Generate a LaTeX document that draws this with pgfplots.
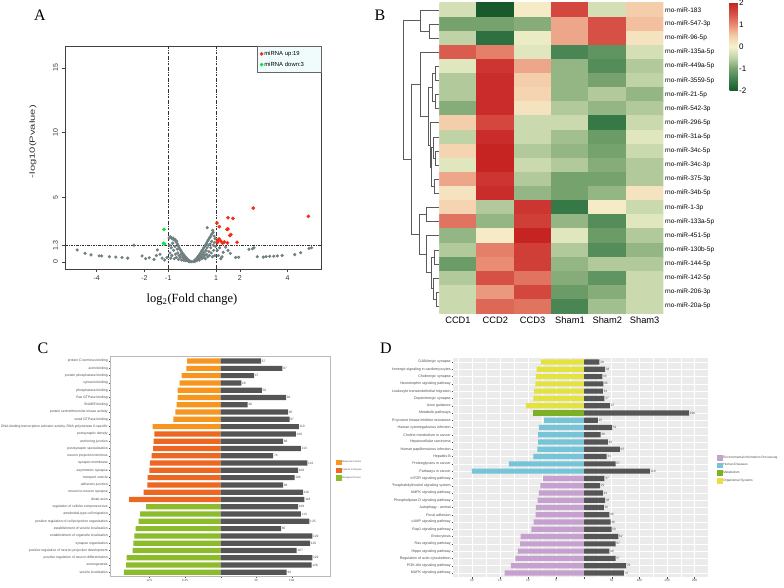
\documentclass[border=0pt]{standalone}
\usepackage{fontspec}
\setmainfont{Liberation Sans}
\newfontfamily\seriffont{Liberation Serif}
\usepackage{pgfplots}
\usepackage{pgfplotstable}
\pgfplotsset{compat=1.18}

\definecolor{grayPt}{RGB}{112,128,128}
\definecolor{upRed}{RGB}{245,45,20}
\definecolor{downGreen}{RGB}{20,225,70}
\definecolor{mf}{RGB}{246,150,30}
\definecolor{cc}{RGB}{236,104,34}
\definecolor{bp}{RGB}{140,188,44}
\definecolor{gbar}{RGB}{85,85,85}
\definecolor{eip}{RGB}{198,160,206}
\definecolor{hd}{RGB}{118,196,216}
\definecolor{met}{RGB}{126,176,38}
\definecolor{os}{RGB}{228,226,62}
\definecolor{ggbg}{RGB}{235,235,235}
\definecolor{dendro}{RGB}{90,90,90}

\pgfplotsset{sqlegend/.style={legend image code/.code={\fill[##1] (0pt,-2.8pt) rectangle (5.5pt,2.8pt);}}}
\pgfplotsset{dl/.style={color=dendro, no markers, line width=0.5pt, forget plot}}

\pgfplotstableread{
row p genes
1 5.9 57
2 6.0 87
3 6.84 47
4 7.19 29
5 7.54 58
6 7.54 92
7 7.72 38
8 7.95 95
9 8.3 97
10 11.93 110
11 11.64 106
12 11.75 88
13 11.87 113
14 12.1 74
15 12.4 122
16 12.51 109
17 12.8 104
18 12.87 88
19 13.5 116
20 16.08 118
21 13.1 109
22 14.15 113
23 14.39 125
24 14.9 85
25 15.15 129
26 15.3 126
27 15.44 107
28 16.5 129
29 16.6 128
30 16.96 93
}\Ctab

\pgfplotstableread{
row p genes
1 7.7 28
2 8.45 38
3 8.57 33
4 8.7 35
5 8.9 34
6 9.05 37
7 10.36 47
8 9.17 190
9 7.14 25
10 8.04 51
11 8.2 30
12 8.2 43
13 8.33 65
14 9.05 41
15 13.4 57
16 20.0 119
17 7.3 37
18 7.8 29
19 8.04 34
20 8.27 38
21 8.57 36
22 8.63 46
23 8.99 48
24 9.4 50
25 11.3 62
26 11.4 57
27 11.8 46
28 12.26 57
29 13.04 76
30 14.17 72
}\Dtab

\pgfplotstableread{
x y c
0 1 -0.3
1 1 -2.0
2 1 0.1
3 1 1.6
4 1 -0.3
5 1 0.5
0 2 -1.0
1 2 -1.0
2 2 -0.9
3 2 0.8
4 2 1.5
5 2 0.6
0 3 -0.5
1 3 -1.7
2 3 -0.1
3 3 0.8
4 3 1.5
5 3 0.2
0 4 1.4
1 4 1.1
2 4 -0.2
3 4 -1.4
4 4 -1.2
5 4 -0.3
0 5 -0.2
1 5 1.8
2 5 0.8
3 5 -0.8
4 5 -1.3
5 5 -0.6
0 6 -0.6
1 6 1.9
2 6 0.5
3 6 -0.8
4 6 -1.0
5 6 -0.5
0 7 -0.6
1 7 1.9
2 7 0.4
3 7 -0.8
4 7 -0.6
5 7 -0.8
0 8 -0.9
1 8 1.9
2 8 0.2
3 8 -0.6
4 8 -0.8
5 8 -0.6
0 9 0.5
1 9 1.6
2 9 -0.4
3 9 -0.4
4 9 -1.6
5 9 -0.4
0 10 -0.5
1 10 1.9
2 10 -0.4
3 10 -0.7
4 10 -1.1
5 10 -0.2
0 11 0.4
1 11 2.0
2 11 -0.6
3 11 -0.8
4 11 -1.0
5 11 -0.4
0 12 -0.2
1 12 2.0
2 12 -0.4
3 12 -0.6
4 12 -0.9
5 12 -0.6
0 13 0.8
1 13 1.8
2 13 -0.6
3 13 -1.0
4 13 -1.0
5 13 -0.6
0 14 0.2
1 14 1.9
2 14 -0.8
3 14 -1.0
4 14 -0.8
5 14 0.2
0 15 0.4
1 15 -0.6
2 15 1.8
3 15 -1.6
4 15 0.1
5 15 -0.4
0 16 1.2
1 16 -0.8
2 16 1.7
3 16 -0.8
4 16 -1.3
5 16 -0.2
0 17 -0.8
1 17 0.1
2 17 2.0
3 17 -0.2
4 17 -1.1
5 17 -0.6
0 18 -0.6
1 18 1.1
2 18 1.7
3 18 -0.6
4 18 -1.3
5 18 -0.8
0 19 -1.1
1 19 1.0
2 19 1.7
3 19 -0.8
4 19 -0.6
5 19 -0.6
0 20 -0.6
1 20 1.5
2 20 1.2
3 20 -0.9
4 20 -1.2
5 20 -0.4
0 21 -0.4
1 21 0.9
2 21 1.6
3 21 -1.1
4 21 -0.9
5 21 -0.4
0 22 -0.4
1 22 1.3
2 22 1.2
3 22 -1.4
4 22 -0.7
5 22 -0.4
}\Htab

\begin{document}
\begin{tikzpicture}
\path[use as bounding box] (0pt,0pt) rectangle (784pt,588pt);

% ---------------- Panel A: volcano ----------------
\begin{axis}[at={(65pt,319pt)}, anchor=south west, scale only axis,
  width=256pt, height=223pt,
  xmin=-5.33, xmax=5.4, ymin=-0.54, ymax=16.7,
  xtick={-4,-2,-1,1,2,4}, xticklabels={-4,-2,-1,1,2,4},
  ytick={0,1.3,5,10,15}, yticklabels={0,1.3,5,10,15},
  tick align=outside, tick pos=left, major tick length=3.5pt,
  axis line style={black!75, line width=0.5pt}, tick style={black!75, line width=0.5pt},
  yticklabel style={rotate=90, anchor=south, font=\fontsize{7}{8}\selectfont, text=black!80},
  xticklabel style={font=\fontsize{7}{8}\selectfont, text=black!80},
  clip=false,
  legend style={at={(1,1)}, anchor=north east, draw=black!60,
    fill={rgb,255:red,240;green,252;blue,252},
    font=\fontsize{5.9}{7}\selectfont, inner xsep=2.5pt, inner ysep=3.8pt,
    row sep=3pt, nodes={inner sep=1pt, text width=53pt}},
  legend cell align=left,
  legend image code/.code={\draw[mark repeat=2,mark phase=2,#1] plot coordinates {(0pt,0pt)(3.5pt,0pt)(7pt,0pt)};},
]
\addplot[forget plot, black!80, dash pattern=on 2.5pt off 1.2pt on 0.6pt off 1.2pt, line width=0.45pt] coordinates {(-1,-0.54) (-1,16.7)};
\addplot[forget plot, black!80, dash pattern=on 2.5pt off 1.2pt on 0.6pt off 1.2pt, line width=0.45pt] coordinates {(1,-0.54) (1,16.7)};
\addplot[forget plot, black!80, dash pattern=on 2.5pt off 1.2pt on 0.6pt off 1.2pt, line width=0.45pt] coordinates {(-5.33,1.3) (5.4,1.3)};
\addplot[forget plot, only marks, mark=*, mark size=1.4pt, color=grayPt] coordinates {
(-4.82,0.93) (-4.49,0.67) (-4.24,0.55) (-3.9,0.47) (-3.79,0.47) (-3.47,0.41) (-3.2,0.38) (-2.94,0.35) (-2.7,0.3) (-2.44,1.3) (-2.1,0.47) (-1.95,0.26) (-1.8,0.33) (-1.46,0.93) (-1.5,0.5) (-1.26,0.3) (-1.6,0.2) (-1.35,0.6) (-1.15,0.15) (-1.05,0.35)
(-0.97,1.85) (-0.92,1.95) (-0.88,1.9) (-0.84,1.8) (-0.8,1.85) (-0.76,1.7) (-0.72,1.75) (-0.68,1.55) (-0.65,1.6) (-0.62,1.4) (-0.58,1.25) (-0.55,1.1) (-0.52,1.0) (-0.48,0.9) (-0.45,0.8) (-0.42,0.7) (-0.38,0.6) (-0.35,0.55) (-0.32,0.45) (-0.28,0.38) (-0.25,0.3) (-0.22,0.25) (-0.18,0.18) (-0.15,0.12) (-0.12,0.08) (-0.08,0.05) (-0.04,0.02)
(-0.95,1.3) (-0.93,0.7) (-0.9,0.3) (-0.88,1.1) (-0.85,0.5) (-0.82,1.45) (-0.78,0.9) (-0.75,0.25) (-0.72,1.2) (-0.7,0.6) (-0.66,0.35) (-0.63,1.0) (-0.6,0.7) (-0.57,0.2) (-0.55,0.5) (-0.5,0.35) (-0.47,0.6) (-0.44,0.15) (-0.4,0.45) (-0.37,0.3) (-0.34,0.12) (-0.3,0.25) (-0.26,0.1) (-0.2,0.12) (-0.16,0.06) (-0.1,0.03)
(0.04,0.03) (0.08,0.08) (0.12,0.15) (0.16,0.22) (0.2,0.3) (0.24,0.4) (0.28,0.5) (0.32,0.6) (0.36,0.72) (0.4,0.85) (0.44,0.95) (0.48,1.08) (0.52,1.2) (0.56,1.32) (0.6,1.45) (0.64,1.6) (0.68,1.72) (0.72,1.85) (0.76,1.95) (0.8,2.1) (0.84,2.2) (0.88,2.3) (0.92,2.0) (0.96,1.8) (0.63,2.65) (0.86,2.45)
(0.1,0.04) (0.15,0.08) (0.2,0.12) (0.24,0.2) (0.28,0.28) (0.3,0.15) (0.34,0.35) (0.38,0.45) (0.4,0.25) (0.44,0.6) (0.46,0.35) (0.5,0.75) (0.52,0.5) (0.55,0.25) (0.58,0.9) (0.6,0.6) (0.62,1.1) (0.65,0.4) (0.68,1.3) (0.7,0.8) (0.72,0.5) (0.75,1.4) (0.78,1.1) (0.8,0.7) (0.82,1.6) (0.85,0.4) (0.88,1.3) (0.9,0.9) (0.93,1.5) (0.95,0.5) (0.98,1.2)
(1.05,0.9) (1.1,0.5) (1.15,1.1) (1.2,0.25) (1.3,0.75) (1.4,1.15) (1.5,0.9) (1.6,0.67) (1.25,0.4) (1.82,0.35) (1.95,0.37) (2.38,0.98) (2.53,1.03) (2.59,1.1) (2.73,0.41) (2.98,0.38) (3.1,0.42) (3.25,0.44) (3.42,0.45) (3.57,0.47) (3.77,0.5) (4.3,0.57) (4.55,0.72) (4.9,1.05) (5.0,1.1)
};
\addplot[only marks, mark=*, mark size=1.65pt, color=upRed] coordinates {
(2.56,4.17) (4.87,3.53) (1.50,3.42) (1.71,3.37) (1.04,3.01) (1.14,2.73) (1.46,2.52) (1.50,2.56) (1.62,2.12) (1.58,2.05) (1.13,1.78) (1.05,1.62) (1.20,1.62) (1.27,1.45) (1.06,1.50) (1.48,1.48) (1.88,1.53) (1.10,1.70) (1.35,1.55)
};
\addlegendentry{miRNA up:19}
\addplot[only marks, mark=*, mark size=1.65pt, color=downGreen] coordinates {
(-1.18,2.52) (-1.2,1.44) (-1.16,1.40)
};
\addlegendentry{miRNA down:3}
\node[rotate=90, font=\fontsize{7.5}{9}\selectfont, text=black!80] at (axis description cs:-0.125,0.571) {\scalebox{1.5}[1]{-log10(Pvalue)}};
\node[font=\seriffont\fontsize{12.5}{14}\selectfont] at (axis description cs:0.496,-0.139) {log\textsubscript{2}(Fold change)};
\end{axis}

% ---------------- Panel B: dendrogram ----------------
\begin{axis}[at={(400pt,274.7pt)}, anchor=south west, scale only axis,
  width=39.3pt, height=310.6pt, xmin=400, xmax=439.3, ymin=0.5, ymax=22.5,
  y dir=reverse, hide axis, clip=false]
\addplot[dl] coordinates {(439.3,2) (429.3,2) (429.3,3) (439.3,3)};
\addplot[dl] coordinates {(439.3,1) (420.7,1) (420.7,2.5) (429.3,2.5)};
\addplot[dl] coordinates {(439.3,5) (435,5) (435,6) (439.3,6)};
\addplot[dl] coordinates {(439.3,7) (435,7) (435,8) (439.3,8)};
\addplot[dl] coordinates {(435,5.5) (432.7,5.5) (432.7,7.5) (435,7.5)};
\addplot[dl] coordinates {(439.3,11) (435.5,11) (435.5,12) (439.3,12)};
\addplot[dl] coordinates {(439.3,10) (433.3,10) (433.3,11.5) (435.5,11.5)};
\addplot[dl] coordinates {(439.3,13) (434.3,13) (434.3,14) (439.3,14)};
\addplot[dl] coordinates {(433.3,10.75) (431.7,10.75) (431.7,13.5) (434.3,13.5)};
\addplot[dl] coordinates {(439.3,9) (430,9) (430,12.125) (431.7,12.125)};
\addplot[dl] coordinates {(432.7,6.5) (428,6.5) (428,10.5625) (430,10.5625)};
\addplot[dl] coordinates {(439.3,4) (420.7,4) (420.7,8.53125) (428,8.53125)};
\addplot[dl] coordinates {(439.3,15) (426.7,15) (426.7,16) (439.3,16)};
\addplot[dl] coordinates {(439.3,21) (436,21) (436,22) (439.3,22)};
\addplot[dl] coordinates {(439.3,20) (433,20) (433,21.5) (436,21.5)};
\addplot[dl] coordinates {(439.3,18) (434,18) (434,19) (439.3,19)};
\addplot[dl] coordinates {(434,18.5) (431,18.5) (431,20.75) (433,20.75)};
\addplot[dl] coordinates {(439.3,17) (426,17) (426,19.625) (431,19.625)};
\addplot[dl] coordinates {(426.7,15.5) (419.7,15.5) (419.7,18.3125) (426,18.3125)};
\addplot[dl] coordinates {(420.7,6.265625) (411.7,6.265625) (411.7,16.90625) (419.7,16.90625)};
\addplot[dl] coordinates {(420.7,1.75) (403.3,1.75) (403.3,11.5859) (411.7,11.5859)};
\end{axis}

% ---------------- Panel B: heatmap ----------------
\begin{axis}[at={(439.3pt,274.7pt)}, anchor=south west, scale only axis,
  width=224pt, height=310.6pt, xmin=-0.5, xmax=5.5, ymin=0.5, ymax=22.5,
  y dir=reverse, axis line style={draw=none}, major tick length=0pt,
  xtick={0,1,2,3,4,5}, xticklabels={CCD1,CCD2,CCD3,Sham1,Sham2,Sham3},
  xticklabel style={font=\fontsize{9.3}{11}\selectfont, inner sep=3.5pt},
  ytick={1,...,22}, yticklabel pos=right,
  yticklabels={rno-miR-183,rno-miR-547-3p,rno-miR-96-5p,rno-miR-135a-5p,rno-miR-449a-5p,rno-miR-3559-5p,rno-miR-21-5p,rno-miR-542-3p,rno-miR-296-5p,rno-miR-31a-5p,rno-miR-34c-5p,rno-miR-34c-3p,rno-miR-375-3p,rno-miR-34b-5p,rno-miR-1-3p,rno-miR-133a-5p,rno-miR-451-5p,rno-miR-130b-5p,rno-miR-144-5p,rno-miR-142-5p,rno-miR-206-3p,rno-miR-20a-5p},
  yticklabel style={font=\fontsize{6.5}{7.5}\selectfont, inner sep=1.5pt},
  colormap={hm}{rgb255(0cm)=(25,90,45); rgb255(1cm)=(62,127,77); rgb255(2cm)=(118,162,110); rgb255(3cm)=(192,211,166); rgb255(4cm)=(246,242,206); rgb255(5cm)=(244,205,170); rgb255(6cm)=(232,140,115); rgb255(7cm)=(214,80,70); rgb255(8cm)=(198,35,35)},
  point meta min=-2, point meta max=2,
  colorbar,
  colorbar style={scale only axis, at={(parent axis.north east)}, anchor=north west, xshift=57.7pt,
    width=8.3pt, height=88pt, ytick={-2,-1,0,1,2}, yticklabels={-2,-1,0,1,2},
    yticklabel style={font=\fontsize{8}{9}\selectfont, inner sep=1.2pt},
    major tick length=0pt, axis line style={draw=none}},
]
\addplot[matrix plot*, mesh/cols=6, point meta=explicit] table[x=x, y=y, meta=c] {\Htab};
\end{axis}

% ---------------- Panel C ----------------
\begin{axis}[at={(110pt,11.3pt)}, anchor=south west, scale only axis,
  width=220.3pt, height=220pt, xmin=-155.9, xmax=154.4, ymin=0.4, ymax=30.6,
  y dir=reverse, ytick={1,...,30},
  yticklabels={{protein C-terminus binding},{actin binding},{protein phosphatase binding},{syntaxin binding},{phosphatase binding},{Ras GTPase binding},{SNARE binding},{protein serine/threonine kinase activity},{small GTPase binding},{DNA-binding transcription activator activity, RNA polymerase II-specific},{postsynaptic density},{anchoring junction},{postsynaptic specialization},{neuron projection terminus},{synaptic membrane},{asymmetric synapse},{transport vesicle},{adherens junction},{neuron to neuron synapse},{distal axon},{regulation of cellular component size},{ameboidal-type cell migration},{positive regulation of cell projection organization},{establishment of vesicle localization},{establishment of organelle localization},{synapse organization},{positive regulation of neuron projection development},{positive regulation of neuron differentiation},{axonogenesis},{vesicle localization}},
  xtick={-100.4,-50.2,0,50,100}, xticklabels={12.5,6.25,,50,100},
  tick align=outside, tick pos=left, major tick length=1.5pt,
  axis line style={gray!55, line width=0.6pt}, tick style={black!65, line width=0.3pt},
  yticklabel style={font=\fontsize{3.4}{4}\selectfont, text=black!70, inner sep=0.6pt},
  xticklabel style={font=\fontsize{3}{3.5}\selectfont, text=black!70, inner sep=0.6pt},
  bar width=5.2pt,
  legend style={at={(1.026,0.532)}, anchor=north west, draw=none, fill=none,
    font=\fontsize{2.4}{2.8}\selectfont, text=black!70, row sep=2.1pt, inner sep=0pt,
    nodes={inner sep=0.6pt}},
  legend cell align=left,
]
\addplot[xbar, bar shift=0pt, fill=mf, draw=none, sqlegend, restrict y to domain=0.5:10.5] table[x expr=-8.03*\thisrow{p}, y=row] {\Ctab};
\addlegendentry{Molecular Functio}
\addplot[xbar, bar shift=0pt, fill=cc, draw=none, sqlegend, restrict y to domain=10.5:20.5] table[x expr=-8.03*\thisrow{p}, y=row] {\Ctab};
\addlegendentry{Cellular Compone}
\addplot[xbar, bar shift=0pt, fill=bp, draw=none, sqlegend, restrict y to domain=20.5:30.5] table[x expr=-8.03*\thisrow{p}, y=row] {\Ctab};
\addlegendentry{Biological Proces}
\addplot[forget plot, xbar, bar shift=0pt, fill=gbar, draw=none, point meta=explicit symbolic,
  nodes near coords, nodes near coords style={font=\fontsize{3.2}{3.6}\selectfont, text=black!70, anchor=west, inner sep=0.6pt}]
  table[x=genes, y=row, meta=genes] {\Ctab};
\node[anchor=west, font=\fontsize{2.8}{3.2}\selectfont, text=black!75] at (axis description cs:1.026,0.558) {Classification};
\node[font=\fontsize{3}{3.5}\selectfont, text=black!75] at (axis description cs:0.431,-0.0345) {-log10(Pvalue)};
\node[font=\fontsize{3}{3.5}\selectfont, text=black!75] at (axis description cs:0.575,-0.0345) {No of Genes};
\end{axis}

% ---------------- Panel D ----------------
\begin{scope}
\clip (392pt,0pt) rectangle (784pt,340pt);
\begin{axis}[at={(453pt,10.7pt)}, anchor=south west, scale only axis,
  width=256.3pt, height=219.6pt, xmin=-236.9, xmax=226.6, ymin=0.4, ymax=30.6,
  y dir=reverse, ytick={1,...,30},
  yticklabels={{GABAergic synapse},{Adrenergic signaling in cardiomyocytes},{Cholinergic synapse},{Neurotrophin signaling pathway},{Leukocyte transendothelial migration},{Dopaminergic synapse},{Axon guidance},{Metabolic pathways},{EGFR tyrosine kinase inhibitor resistance},{Human cytomegalovirus infection},{Choline metabolism in cancer},{Hepatocellular carcinoma},{Human papillomavirus infection},{Hepatitis B},{Proteoglycans in cancer},{Pathways in cancer},{mTOR signaling pathway},{Phosphatidylinositol signaling system},{AMPK signaling pathway},{Phospholipase D signaling pathway},{Autophagy - animal},{Focal adhesion},{cAMP signaling pathway},{Rap1 signaling pathway},{Endocytosis},{Ras signaling pathway},{Hippo signaling pathway},{Regulation of actin cytoskeleton},{PI3K-Akt signaling pathway},{MAPK signaling pathway}},
  xtick={-202.6,-151.9,-101.3,-50.65,0,50,100,150,200},
  xticklabels={20,15,10,5,,50,100,150,200},
  minor xtick={-227.9,-177.3,-126.6,-76,-25.3,25,75,125,175,225},
  tick align=outside, tick pos=left, major tick length=1.5pt, minor tick length=0pt,
  axis line style={draw=none}, tick style={black!70, line width=0.3pt},
  axis background/.style={fill=ggbg},
  xmajorgrids, xminorgrids, ymajorgrids,
  major grid style={white, line width=0.55pt}, minor grid style={white, line width=0.3pt},
  yticklabel style={font=\fontsize{3.6}{4.2}\selectfont, text=black!70, inner sep=0.6pt},
  xticklabel style={font=\fontsize{3.2}{3.8}\selectfont, text=black!70, inner sep=0.6pt},
  bar width=5.2pt,
  legend style={at={(1.030,0.557)}, anchor=north west, draw=none, fill=none,
    font=\fontsize{3.2}{3.6}\selectfont, text=black!70, row sep=2pt, inner sep=0pt,
    nodes={inner sep=0.6pt}},
  legend cell align=left,
]
\addplot[xbar, bar shift=0pt, fill=eip, draw=none, sqlegend, restrict y to domain=16.5:30.5] table[x expr=-10.13*\thisrow{p}, y=row] {\Dtab};
\addlegendentry{Environmental Information Processing}
\addplot[xbar, bar shift=0pt, fill=hd, draw=none, sqlegend, restrict y to domain=8.5:16.5] table[x expr=-10.13*\thisrow{p}, y=row] {\Dtab};
\addlegendentry{Human Diseases}
\addplot[xbar, bar shift=0pt, fill=met, draw=none, sqlegend, restrict y to domain=7.5:8.5] table[x expr=-10.13*\thisrow{p}, y=row] {\Dtab};
\addlegendentry{Metabolism}
\addplot[xbar, bar shift=0pt, fill=os, draw=none, sqlegend, restrict y to domain=0.5:7.5] table[x expr=-10.13*\thisrow{p}, y=row] {\Dtab};
\addlegendentry{Organismal Systems}
\addplot[forget plot, xbar, bar shift=0pt, fill=gbar, draw=none, point meta=explicit symbolic,
  nodes near coords, nodes near coords style={font=\fontsize{3.2}{3.6}\selectfont, text=black!70, anchor=west, inner sep=0.6pt}]
  table[x=genes, y=row, meta=genes] {\Dtab};
\node[anchor=west, font=\fontsize{3.2}{3.6}\selectfont, text=black!75] at (axis description cs:1.030,0.575) {Classification};
\node[font=\fontsize{3}{3.5}\selectfont, text=black!75] at (axis description cs:0.45,-0.032) {-log10(Pvalue)};
\node[font=\fontsize{3}{3.5}\selectfont, text=black!75] at (axis description cs:0.567,-0.032) {No of Genes};
\end{axis}
\end{scope}

% panel letters
\node[font=\seriffont\fontsize{16}{18}\selectfont] at (40pt,573pt) {A};
\node[font=\seriffont\fontsize{16}{18}\selectfont] at (380pt,573pt) {B};
\node[font=\seriffont\fontsize{16}{18}\selectfont] at (43pt,240pt) {C};
\node[font=\seriffont\fontsize{16}{18}\selectfont] at (386pt,240pt) {D};
\end{tikzpicture}
\end{document}
